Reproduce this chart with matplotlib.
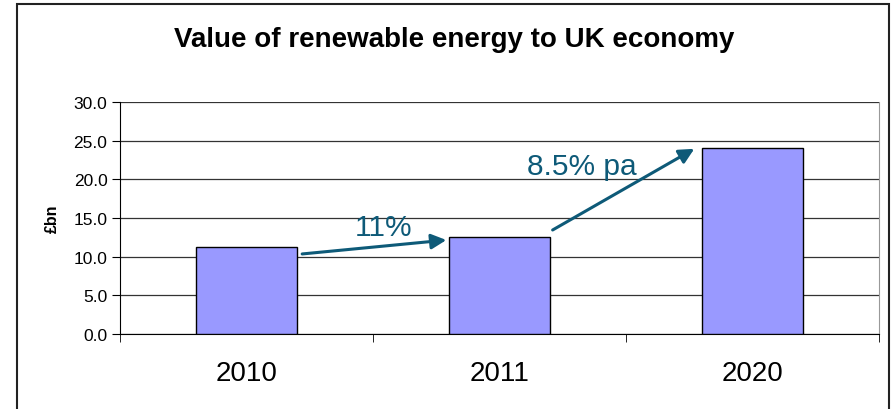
import matplotlib
matplotlib.use("Agg")
import matplotlib.pyplot as plt
from matplotlib.patches import Rectangle

plt.rcParams['font.family'] = ['Liberation Sans', 'DejaVu Sans']

years = ["2010", "2011", "2020"]
values = [11.3, 12.5, 24.0]
yticks = [0.0, 5.0, 10.0, 15.0, 20.0, 25.0, 30.0]
growth_labels = ["11%", "8.5% pa"]

arrow_color = "#0E5A78"

fig = plt.figure(figsize=(8.95, 4.10), dpi=100)
fig.patch.set_facecolor("white")

# outer chart frame
fig.add_artist(Rectangle((17 / 895, -0.05), (889 - 17) / 895, 1.05 - 5 / 410,
                         transform=fig.transFigure, fill=False,
                         edgecolor="#222222", linewidth=1.5))

ax = fig.add_axes([120 / 895, 1 - 335 / 410, (879 - 120) / 895, (335 - 103) / 410])

x = range(len(years))
ax.bar(x, values, width=0.40, color="#9999FF", edgecolor="black",
       linewidth=1.0, zorder=3)

ax.set_xlim(-0.5, 2.5)
ax.set_ylim(0, 30)
ax.set_yticks(yticks)
ax.set_yticklabels([f"{v:.1f}" for v in yticks], fontsize=12.5)
ax.yaxis.grid(True, color="#333333", linewidth=0.9, zorder=0)
ax.set_axisbelow(True)

ax.set_xticks(list(x))
ax.set_xticklabels(years, fontsize=20)
ax.tick_params(axis="x", length=0, pad=19)
ax.set_xticks([-0.5, 0.5, 1.5, 2.5], minor=True)
ax.tick_params(axis="x", which="minor", length=6, direction="out", color="black")
ax.tick_params(axis="y", length=6, direction="out", color="black", pad=3)

ax.spines["top"].set_visible(False)
ax.spines["right"].set_color("#999999")
ax.spines["left"].set_color("black")
ax.spines["bottom"].set_color("black")

ax.set_ylabel("£bn", fontsize=11.5, fontweight="bold", labelpad=10)

fig.text(0.508, 1 - 40 / 410, "Value of renewable energy to UK economy",
         ha="center", va="center", fontsize=20, fontweight="bold")

# growth arrows between bars
ax.annotate("", xy=(0.79, 12.15), xytext=(0.22, 10.35),
            arrowprops=dict(arrowstyle="-|>,head_length=0.9,head_width=0.45",
                            color=arrow_color, lw=2.2, shrinkA=0, shrinkB=0),
            zorder=5)
ax.annotate("", xy=(1.77, 23.95), xytext=(1.21, 13.45),
            arrowprops=dict(arrowstyle="-|>,head_length=0.9,head_width=0.45",
                            color=arrow_color, lw=2.2, shrinkA=0, shrinkB=0),
            zorder=5)
ax.text(0.54, 13.9, growth_labels[0], color=arrow_color, fontsize=21.5,
        ha="center", va="center", zorder=6)
ax.text(1.326, 21.75, growth_labels[1], color=arrow_color, fontsize=21.5,
        ha="center", va="center", zorder=6)

fig.savefig("out.png", dpi=100, facecolor="white")
